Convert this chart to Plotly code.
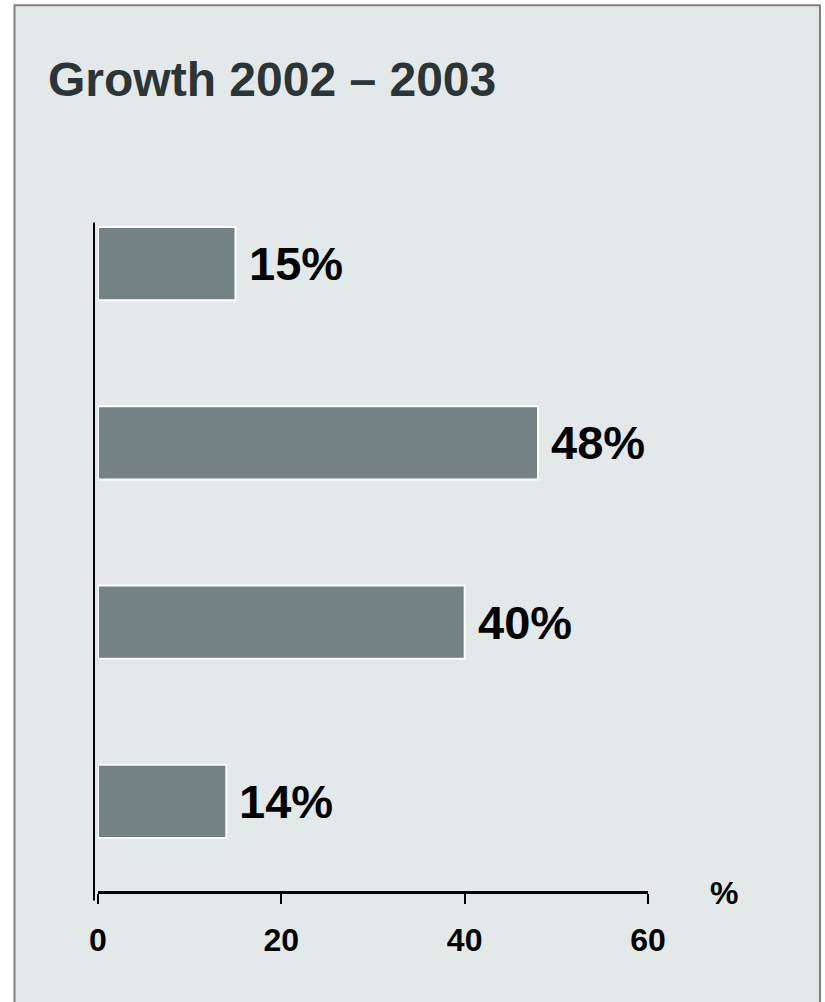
import plotly.graph_objects as go

# Data
categories = ["A", "B", "C", "D"]
growth_values = [15, 48, 40, 14]
value_labels = ["15%", "48%", "40%", "14%"]
x_tick_values = [0, 20, 40, 60]
x_tick_labels = ["0", "20", "40", "60"]
title_text = "Growth 2002 \u2013 2003"
unit_label = "%"

FONT = "Liberation Sans, Arial, Helvetica, sans-serif"
W, H = 825, 1002
OFF = 0  # page body margin removed below
L, R, T, B = 98 - OFF, 177 + OFF, 173.5 - OFF, 110.5 + OFF
PW = W - L - R
PH = H - T - B

def px_x(p):
    return (p - OFF - L) / PW

def px_y(p):
    return (H - B - (p - OFF)) / PH

fig = go.Figure()
fig.add_trace(go.Bar(
    x=growth_values,
    y=categories,
    orientation="h",
    width=0.41,
    marker=dict(color="#748284", line=dict(color="white", width=2)),
    hoverinfo="skip",
))

annotations = []
for cat, val, lab in zip(categories, growth_values, value_labels):
    annotations.append(dict(
        x=val, y=cat, xref="x", yref="y", text=lab, showarrow=False,
        xanchor="left", yanchor="middle", xshift=11,
        font=dict(family=FONT, size=47, color="#000000", weight="bold"),
    ))
annotations.append(dict(
    x=px_x(724), y=px_y(894), xref="paper", yref="paper", text=unit_label,
    showarrow=False, xanchor="center", yanchor="middle",
    font=dict(family=FONT, size=32, color="#000000", weight="bold"),
))

shapes = [
    dict(type="rect", xref="paper", yref="paper",
         x0=px_x(14.5), x1=px_x(820), y0=px_y(1030), y1=px_y(4.5),
         fillcolor="#e3e9e9", line=dict(color="#808080", width=2), layer="below"),
    dict(type="line", xref="paper", yref="paper",
         x0=px_x(94), x1=px_x(94), y0=px_y(901), y1=px_y(222),
         line=dict(color="#000000", width=2)),
]

fig.update_layout(
    width=W, height=H,
    margin=dict(l=L, r=R, t=T, b=B, pad=0),
    paper_bgcolor="white",
    plot_bgcolor="rgba(0,0,0,0)",
    showlegend=False,
    title=dict(text=title_text, x=(48 - OFF) / W, y=1 - (79 - OFF) / H,
               xref="container", yref="container",
               xanchor="left", yanchor="middle",
               font=dict(family=FONT, size=48, color="#2b3538", weight="bold")),
    xaxis=dict(range=[0, 60], tickvals=x_tick_values, ticktext=x_tick_labels,
               showgrid=False, zeroline=False, showline=True, linecolor="#000000", linewidth=2.5,
               ticks="outside", ticklen=10, tickwidth=1.5, tickcolor="#000000",
               ticklabelstandoff=9,
               tickfont=dict(family=FONT, size=32, color="#000000", weight="bold"),
               fixedrange=True),
    yaxis=dict(categoryorder="array", categoryarray=categories, autorange="reversed",
               showgrid=False, zeroline=False, showline=False, showticklabels=False,
               ticks="", fixedrange=True),
    annotations=annotations,
    shapes=shapes,
)

fig.write_html(
    "out.html",
    config={"displayModeBar": False},
    post_script="document.body.style.margin='0';document.body.style.overflow='hidden';",
)
